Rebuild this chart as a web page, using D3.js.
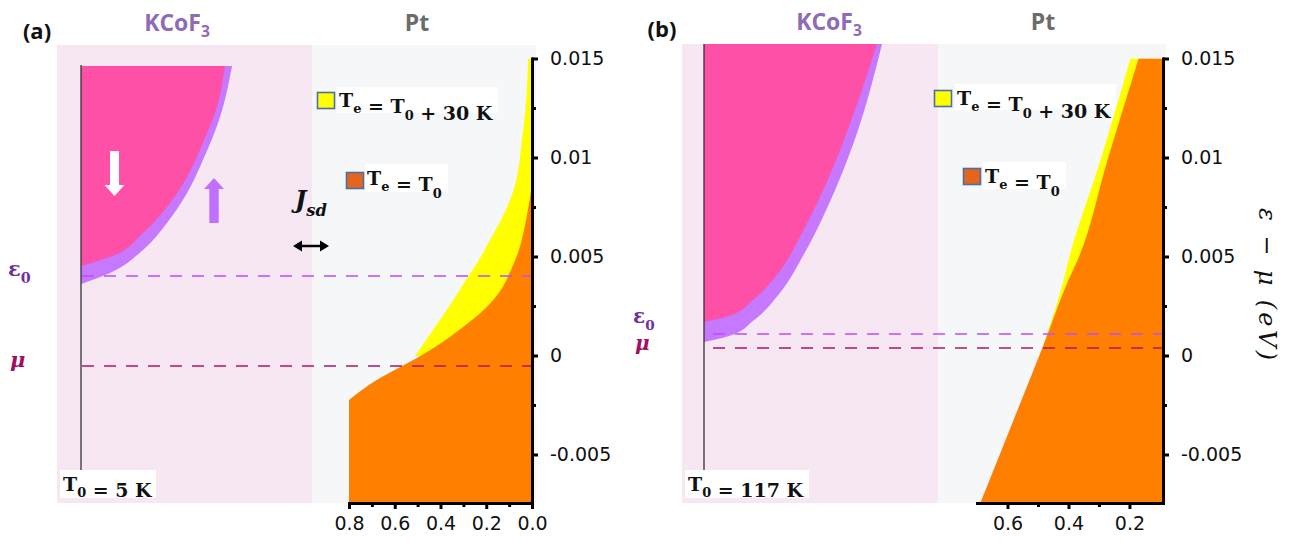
<!DOCTYPE html>
<html><head><meta charset="utf-8">
<script src="https://cdn.jsdelivr.net/npm/d3@7"></script>
<style>
body{margin:0;background:#fff}
svg{display:block}
.ax text{font-family:"DejaVu Sans",sans-serif;font-size:19px;fill:#111}
.ax .domain{stroke:#000;stroke-width:3;stroke-linecap:square}
.ax .tick line{stroke:#000;stroke-width:3}
.math{font-family:"DejaVu Serif",serif;font-weight:bold;fill:#111}
.title{font-family:"Open Sans",sans-serif;font-weight:bold}
</style>
</head><body>
<svg id="c" width="1294" height="541"></svg>
<script>
// ---------------- data ----------------
const energyTicks = [-0.005, 0, 0.005, 0.01, 0.015];
const energyTickLabels = ["-0.005", "0", "0.005", "0.01", "0.015"];
const energyMinorTicks = [-0.0025, 0.0025, 0.0075, 0.0125];
const energyDomain = [-0.00745, 0.015];

const aOccTicks = [0.8, 0.6, 0.4, 0.2, 0.0];
const aOccMinor = [0.7, 0.5, 0.3, 0.1];
const aOccDomain = [0.8, 0.0];
const bOccTicks = [0.6, 0.4, 0.2];
const bOccMinor = [0.5, 0.3];
const bOccDomain = [0.7, 0.09];

// Panel (a): Pt occupation, T_e = T0 (orange) and T_e = T0 + 30 K (yellow)
const aOrangeE = [-0.00745, -0.00225, -0.00129, -0.00058, -0.00003, 0.00078, 0.00154, 0.0024, 0.00331, 0.00432, 0.00533, 0.00634, 0.00735, 0.00836, 0.00886];
const aOrangeV = [0.8, 0.8, 0.686, 0.576, 0.488, 0.378, 0.29, 0.202, 0.136, 0.092, 0.057, 0.035, 0.018, 0.004, 0.0];
const aYellowE = [-0.00003, 0.00129, 0.00255, 0.00381, 0.00492, 0.00583, 0.00674, 0.0076, 0.00861, 0.00962, 0.01088, 0.01214, 0.01351, 0.015];
const aYellowV = [0.511, 0.433, 0.358, 0.289, 0.227, 0.184, 0.140, 0.105, 0.074, 0.057, 0.044, 0.031, 0.022, 0.017];
// Panel (a): KCoF3 magnon bands (k in arbitrary units)
const aPinkK = [0, 0.193, 0.413, 0.573, 0.707, 0.813, 0.907, 0.96];
const aPinkE = [0.00452, 0.00497, 0.00619, 0.0075, 0.00902, 0.01074, 0.01256, 0.01462];
const aPurpleK = [0, 0.193, 0.413, 0.573, 0.707, 0.813, 0.927, 1.007];
const aPurpleE = [0.00361, 0.00417, 0.00533, 0.00669, 0.00821, 0.00987, 0.01204, 0.01462];
const aEps0 = 0.00402, aMu = -0.00053;

// Panel (b)
const bOrangeE = [-0.00745, -0.00275, 0.00053, 0.00381, 0.00482, 0.00987, 0.015];
const bOrangeV = [0.689, 0.567, 0.482, 0.400, 0.370, 0.272, 0.170];
const bYellowE = [0.00053, 0.00381, 0.00482, 0.00987, 0.015];
const bYellowV = [0.482, 0.416, 0.400, 0.295, 0.197];
const bPinkK = [0, 0.139, 0.278, 0.417, 0.556, 0.694, 0.833, 0.961];
const bPinkE = [0.00169, 0.00199, 0.00285, 0.00422, 0.00639, 0.009, 0.01225, 0.01573];
const bPurpleK = [0, 0.139, 0.278, 0.417, 0.556, 0.694, 0.833, 0.989];
const bPurpleE = [0.00068, 0.00098, 0.00179, 0.00311, 0.00513, 0.00765, 0.01078, 0.01573];
const bEps0 = 0.00109, bMu = 0.00038;

// ---------------- colours ----------------
const C = {
  pinkBg: "#f6e7f2", grayBg: "#f6f7f9",
  magenta: "#ff50a8", purple: "#c678ff",
  orange: "#ff8000", yellow: "#ffff00",
  eps: "#b84dff", mu: "#b0146a",
  epsLbl: "#7030a0", muLbl: "#a0105f",
  kcof: "#8e6bb5", pt: "#6b6b6b",
  legOrange: "#e3661e", legBorder: "#4a6ea8"
};

const svg = d3.select("#c");

// pairs sorted by energy descending (pixel y ascending) for monotone curves
function pairs(v, e) { return v.map((d, i) => [d, e[i]]).sort((p, q) => q[1] - p[1]); }

function mathText(g, x, y, parts, size, opts = {}) {
  const t = g.append("text").attr("class", "math").attr("x", x).attr("y", y)
    .style("font-size", size + "px");
  if (opts.italic) t.style("font-style", "italic");
  if (opts.fill) t.style("fill", opts.fill);
  parts.forEach(p => {
    if (p.sub) {
      t.append("tspan").attr("dy", size * 0.33).style("font-size", (size * 0.68) + "px").text(p.sub);
      t.append("tspan").attr("dy", -size * 0.33).text("");
    } else {
      t.append("tspan").text(p.t);
    }
  });
  return t;
}

function panel(cfg) {
  const g = svg.append("g");
  const y = d3.scaleLinear().domain(energyDomain).range([503, 58.5]);
  const x = d3.scaleLinear().domain(cfg.occDomain).range(cfg.occRange);
  const k = d3.scaleLinear().domain([0, 1]).range(cfg.kRange);

  // backgrounds
  g.append("rect").attr("x", cfg.pinkX[0]).attr("y", cfg.bgTop).attr("width", cfg.pinkX[1] - cfg.pinkX[0]).attr("height", 503 - cfg.bgTop).attr("fill", C.pinkBg);
  g.append("rect").attr("x", cfg.pinkX[1]).attr("y", cfg.bgTop).attr("width", cfg.grayR - cfg.pinkX[1]).attr("height", 503 - cfg.bgTop).attr("fill", C.grayBg);

  const clipId = "clip" + cfg.name;
  g.append("clipPath").attr("id", clipId).append("rect")
    .attr("x", cfg.occRange[0]).attr("y", 58.5).attr("width", cfg.occRange[1] - cfg.occRange[0]).attr("height", 503 - 58.5);

  // magnon bands
  const mArea = d3.area().curve(d3.curveMonotoneY)
    .y(d => y(d[1])).x0(k(0)).x1(d => k(d[0]));
  g.append("path").datum(pairs(cfg.purpleK, cfg.purpleE)).attr("d", mArea).attr("fill", C.purple);
  g.append("path").datum(pairs(cfg.pinkK, cfg.pinkE)).attr("d", mArea).attr("fill", C.magenta);

  // Pt occupations
  const x0 = x(cfg.occDomain[1]) + 2;
  const oArea = d3.area().curve(d3.curveMonotoneY).y(d => y(d[1])).x0(x0).x1(d => x(d[0]));
  const lArea = d3.area().curve(d3.curveLinear).y(d => y(d[1])).x0(x0).x1(d => x(d[0]));
  const pg = g.append("g").attr("clip-path", `url(#${clipId})`);
  pg.append("path").datum(pairs(cfg.yellowV, cfg.yellowE)).attr("d", oArea).attr("fill", C.yellow);
  const orange = pairs(cfg.orangeV, cfg.orangeE);
  const ci = cfg.orangeCorner; // number of clipped points (straight edge at the axis limit)
  if (ci) {
    const low = orange.slice(orange.length - ci - 1);
    pg.append("path").datum(low).attr("d", lArea).attr("fill", C.orange);
    pg.append("path").datum(orange.slice(0, orange.length - ci)).attr("d", oArea).attr("fill", C.orange);
  } else {
    pg.append("path").datum(orange).attr("d", oArea).attr("fill", C.orange);
  }

  // vertical line at k = 0
  g.append("line").attr("x1", k(0)).attr("x2", k(0)).attr("y1", cfg.vTop).attr("y2", 472)
    .attr("stroke", "#333").attr("stroke-width", 1.3);

  // dashed levels
  const axisX = cfg.occRange[1];
  [[cfg.eps0, C.eps], [cfg.mu, C.mu]].forEach(([v, col]) => {
    g.append("line").attr("x1", k(0) + cfg.dashStart).attr("x2", axisX).attr("y1", y(v)).attr("y2", y(v))
      .attr("stroke", col).attr("stroke-width", 1.5).attr("stroke-dasharray", "12,10");
  });

  // axes
  g.append("g").attr("class", "ax").attr("transform", `translate(${axisX},0)`)
    .call(d3.axisRight(y).tickValues(energyTicks).tickFormat((d, i) => energyTickLabels[i]).tickSize(6).tickSizeOuter(0).tickPadding(12));
  g.append("g").attr("class", "ax").attr("transform", `translate(${axisX},0)`)
    .call(d3.axisRight(y).tickValues(energyMinorTicks).tickFormat("").tickSize(4).tickSizeOuter(0))
    .select(".domain").remove();
  g.append("g").attr("class", "ax").attr("transform", `translate(0,503)`)
    .call(d3.axisBottom(x).tickValues(cfg.occTicks).tickFormat(d3.format(".1f")).tickSize(6).tickSizeOuter(0).tickPadding(8));
  g.append("g").attr("class", "ax").attr("transform", `translate(0,503)`)
    .call(d3.axisBottom(x).tickValues(cfg.occMinor).tickFormat("").tickSize(4).tickSizeOuter(0))
    .select(".domain").remove();

  return { g, x, y, k };
}

panel({
  name: "a", occDomain: aOccDomain, occRange: [349, 532], kRange: [81, 231],
  pinkX: [57, 312], grayR: 536, bgTop: 45, vTop: 65, dashStart: 1,
  occTicks: aOccTicks, occMinor: aOccMinor, orangeCorner: 1,
  orangeV: aOrangeV, orangeE: aOrangeE, yellowV: aYellowV, yellowE: aYellowE,
  pinkK: aPinkK, pinkE: aPinkE, purpleK: aPurpleK, purpleE: aPurpleE,
  eps0: aEps0, mu: aMu
});
panel({
  name: "b", occDomain: bOccDomain, occRange: [977, 1163], kRange: [704, 884],
  pinkX: [682, 938], grayR: 1166, bgTop: 44, vTop: 44, dashStart: 9,
  occTicks: bOccTicks, occMinor: bOccMinor, orangeCorner: 0,
  orangeV: bOrangeV, orangeE: bOrangeE, yellowV: bYellowV, yellowE: bYellowE,
  pinkK: bPinkK, pinkE: bPinkE, purpleK: bPurpleK, purpleE: bPurpleE,
  eps0: bEps0, mu: bMu
});

// ---------------- titles ----------------
function title(x, y, main, sub, col, size) {
  const t = svg.append("text").attr("class", "title").attr("x", x).attr("y", y)
    .attr("text-anchor", "middle").style("font-size", size + "px").style("fill", col);
  t.append("tspan").text(main);
  if (sub) t.append("tspan").attr("dy", 6).style("font-size", (size * 0.68) + "px").text(sub);
}
title(37, 39, "(a)", null, "#111", 22);
title(662, 37, "(b)", null, "#111", 22);
title(177, 31, "KCoF", "3", C.kcof, 23);
title(829, 30, "KCoF", "3", C.kcof, 23);
title(417, 31, "Pt", null, C.pt, 23);
title(1043, 30, "Pt", null, C.pt, 23);

// ---------------- legends ----------------
function legend(sx, sy, fill, bx, by, bw, bh, parts, tx, ty) {
  svg.append("rect").attr("x", bx).attr("y", by).attr("width", bw).attr("height", bh).attr("fill", "#fff");
  svg.append("rect").attr("x", sx).attr("y", sy).attr("width", 17).attr("height", 16)
    .attr("fill", fill).attr("stroke", C.legBorder).attr("stroke-width", 1.6);
  mathText(svg, tx, ty, parts, 19);
}
const hotParts = [{t: "T"}, {sub: "e"}, {t: " = T"}, {sub: "0"}, {t: " + 30 K"}];
const coldParts = [{t: "T"}, {sub: "e"}, {t: " = T"}, {sub: "0"}];
legend(317.5, 92.5, C.yellow, 337, 87, 161, 26, hotParts, 339, 107);
legend(346.5, 172.5, C.legOrange, 365, 164, 83, 28, coldParts, 367, 185);
legend(934.5, 90.5, C.yellow, 955, 84, 161, 26, hotParts, 957, 105);
legend(963.5, 168.5, C.legOrange, 983, 162, 83, 27, coldParts, 985, 183);

// T0 labels
svg.append("rect").attr("x", 60).attr("y", 470).attr("width", 96).attr("height", 28).attr("fill", "#fff");
mathText(svg, 63, 491, [{t: "T"}, {sub: "0"}, {t: " = 5 K"}], 19);
svg.append("rect").attr("x", 685).attr("y", 470).attr("width", 124).attr("height", 28).attr("fill", "#fff");
mathText(svg, 688, 491, [{t: "T"}, {sub: "0"}, {t: " = 117 K"}], 19);

// epsilon0 / mu labels
mathText(svg, 8, 276, [{t: "ε"}, {sub: "0"}], 21, {fill: C.epsLbl});
mathText(svg, 10, 367, [{t: "μ"}], 21, {fill: C.muLbl, italic: true});
mathText(svg, 633, 323, [{t: "ε"}, {sub: "0"}], 20, {fill: C.epsLbl});
mathText(svg, 635, 350, [{t: "μ"}], 20, {fill: C.muLbl, italic: true});

// J_sd
mathText(svg, 295, 208, [{t: "J"}, {sub: "sd"}], 24, {italic: true});

// arrows (annotations)
svg.append("path").attr("d", "M110,151H119V185H124.5L114.5,196L104.5,185H110Z").attr("fill", "#fff");
svg.append("path").attr("d", "M214,178L224,189H218.7V223H209.3V189H204Z").attr("fill", "#c070ff");
svg.append("line").attr("x1", 300).attr("x2", 322).attr("y1", 246).attr("y2", 246).attr("stroke", "#000").attr("stroke-width", 2.5);
svg.append("path").attr("d", "M293,246L302,240.5V251.5Z M329,246L320,240.5V251.5Z").attr("fill", "#000");

// rotated axis label (panel b)
svg.append("text").attr("transform", "translate(1267,284) rotate(90)")
  .attr("text-anchor", "middle").attr("dy", "0.35em")
  .attr("textLength", 152).attr("lengthAdjust", "spacing")
  .style("font-family", "'DejaVu Serif',serif").style("font-style", "italic").style("font-size", "24px").style("fill", "#111")
  .text("ε − μ  (eV)");
</script>
</body></html>
